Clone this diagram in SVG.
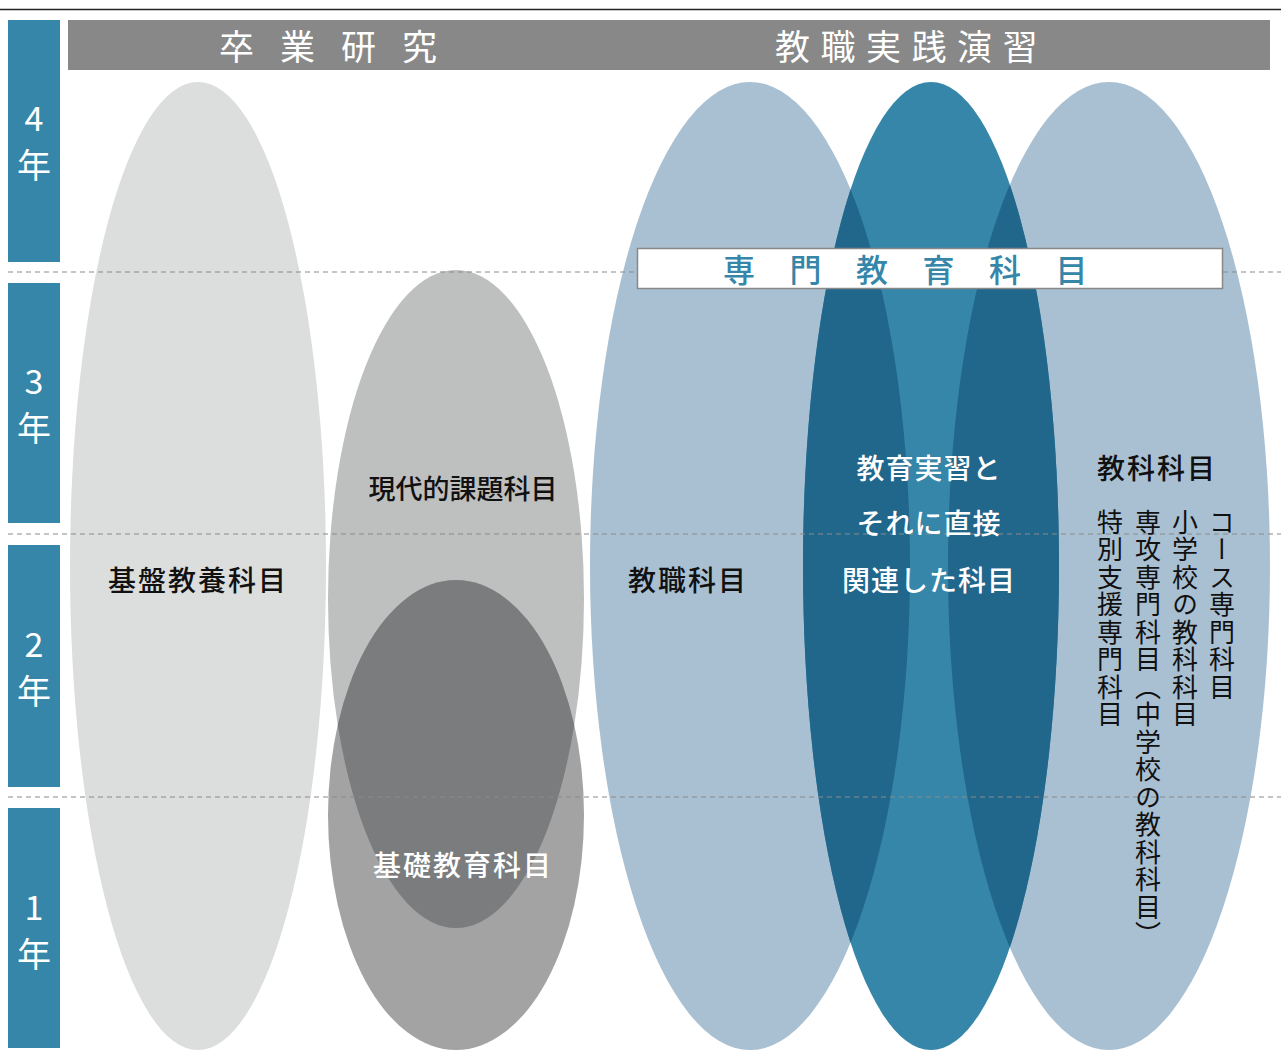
<svg xmlns="http://www.w3.org/2000/svg" width="1281" height="1053" viewBox="0 0 1281 1053">
<style>
text{font-family:"Noto Sans CJK JP","Noto Sans",sans-serif}
.yr{fill:#3586a9}
.yt{fill:#fff;font-size:34px;text-anchor:middle}
.hd{fill:#fff;font-size:35px;text-anchor:start}
.lb{fill:#111;font-size:28px;font-weight:500;text-anchor:middle;letter-spacing:2px}
.wl{fill:#fff;font-size:28px;font-weight:500;text-anchor:middle;letter-spacing:1px}
.vt{fill:#111;font-size:26px;writing-mode:vertical-rl;letter-spacing:1.5px}
.dash{stroke:#8a8a8a;stroke-width:1.2;stroke-dasharray:5 4}
</style>
<defs>
<clipPath id="cUp"><ellipse cx="456" cy="599" rx="128" ry="329"/></clipPath>
<clipPath id="cMid"><ellipse cx="931" cy="566" rx="128" ry="484"/></clipPath>
</defs>
<rect width="1281" height="1053" fill="#fff"/>
<line x1="0" y1="9.5" x2="1281" y2="9.5" stroke="#222" stroke-width="1.5"/>
<rect x="68" y="20" width="1202" height="50" fill="#888"/>
<text class="hd" x="219" y="60" letter-spacing="26">卒業研究</text>
<text class="hd" x="775" y="60" letter-spacing="10.5">教職実践演習</text>

<g id="years">
<rect class="yr" x="8" y="20" width="52" height="242"/>
<rect class="yr" x="8" y="283" width="52" height="240"/>
<rect class="yr" x="8" y="545" width="52" height="242"/>
<rect class="yr" x="8" y="808" width="52" height="240"/>
<text class="yt" x="34" y="131">4</text><text class="yt" x="34" y="178">年</text>
<text class="yt" x="34" y="394">3</text><text class="yt" x="34" y="441">年</text>
<text class="yt" x="34" y="657">2</text><text class="yt" x="34" y="704">年</text>
<text class="yt" x="34" y="920">1</text><text class="yt" x="34" y="967">年</text>
</g>

<g id="kiban"><ellipse cx="198" cy="566" rx="128" ry="484" fill="#dcdddd"/></g>
<g id="gendai"><ellipse cx="456" cy="599" rx="128" ry="329" fill="#bebfbf"/></g>
<g id="kiso"><ellipse cx="456" cy="815" rx="128" ry="235" fill="#a3a3a3"/>
<ellipse cx="456" cy="815" rx="128" ry="235" fill="#7b7c7e" clip-path="url(#cUp)"/></g>

<g id="kyoshoku"><ellipse cx="750" cy="566" rx="160" ry="484" fill="#a9c0d3"/></g>
<g id="kyoka"><ellipse cx="1109" cy="566" rx="161" ry="484" fill="#a9c0d3"/></g>
<g id="jisshu"><ellipse cx="931" cy="566" rx="128" ry="484" fill="#3586a9"/>
<g clip-path="url(#cMid)">
<ellipse cx="750" cy="566" rx="160" ry="484" fill="#21668b"/>
<ellipse cx="1109" cy="566" rx="161" ry="484" fill="#21668b"/>
</g></g>

<g id="connectors">
<line class="dash" x1="8" y1="272" x2="1281" y2="272"/>
<line class="dash" x1="8" y1="534" x2="1281" y2="534"/>
<line class="dash" x1="8" y1="797" x2="1281" y2="797"/>
</g>

<g id="senmon">
<rect x="637.5" y="248.5" width="585" height="40" fill="#fff" stroke="#888" stroke-width="1.5"/>
<text x="723" y="282" font-size="32" fill="#3586a9" font-weight="500" letter-spacing="34.5">専門教育科目</text>
</g>

<text class="lb" x="198" y="591">基盤教養科目</text>
<text class="lb" x="463" y="499" style="font-size:27px;letter-spacing:0">現代的課題科目</text>
<text class="wl" x="463" y="876" style="letter-spacing:2px">基礎教育科目</text>
<text class="lb" x="688" y="591">教職科目</text>
<text class="wl" x="929" y="479">教育実習と</text>
<text class="wl" x="929" y="534">それに直接</text>
<text class="wl" x="929" y="591">関連した科目</text>
<text class="lb" x="1157" y="479">教科科目</text>
<text class="vt" x="1222" y="509">コース専門科目</text>
<text class="vt" x="1185" y="509">小学校の教科科目</text>
<text class="vt" x="1148" y="509">専攻専門科目（中学校の教科科目）</text>
<text class="vt" x="1110" y="509">特別支援専門科目</text>
</svg>
